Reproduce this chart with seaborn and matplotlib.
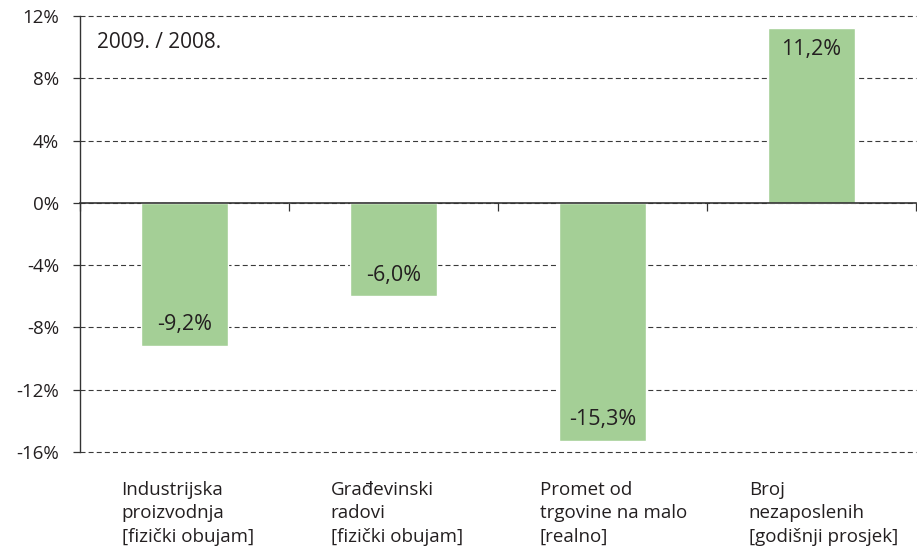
import matplotlib
matplotlib.use('Agg')
import matplotlib.pyplot as plt
import matplotlib.transforms as mtransforms
import pandas as pd
import seaborn as sns

categories = [
    'Industrijska\nproizvodnja\n[fizički obujam]',
    'Građevinski\nradovi\n[fizički obujam]',
    'Promet od\ntrgovine na malo\n[realno]',
    'Broj\nnezaposlenih\n[godišnji prosjek]',
]
values = [-9.2, -6.0, -15.3, 11.2]
value_labels = ['-9,2%', '-6,0%', '-15,3%', '11,2%']
y_ticks = [-16, -12, -8, -4, 0, 4, 8, 12]
period_label = '2009. / 2008.'

sns.set_theme(style='white')
plt.rcParams['font.family'] = ['Open Sans', 'DejaVu Sans']

bar_color = '#a4cf96'
text_color = '#231f20'

df = pd.DataFrame({'cat': categories, 'val': values})

fig = plt.figure(figsize=(9.17, 5.51), dpi=100)
ax = fig.add_axes([0.087, 0.18, 0.912, 0.791])

# dashed gridlines behind the bars
for t in y_ticks:
    ax.axhline(t, color='#3a3a3a', lw=0.8, ls=(0, (4.5, 2.8)), zorder=0, clip_on=False)

sns.barplot(data=df, x='cat', y='val', color=bar_color, width=0.415,
            saturation=1, ax=ax, zorder=2)

ax.set_ylim(-16, 12)
ax.set_xlim(-0.5, 3.5)
ax.set_yticks(y_ticks)
ax.set_yticklabels([f'{t}%' for t in y_ticks], fontsize=13.5, color=text_color)
ax.set_xticks([-0.5, 0.5, 1.5, 2.5, 3.5])
ax.set_xticklabels([])
ax.set_xlabel('')
ax.set_ylabel('')

for s in ['top', 'right']:
    ax.spines[s].set_visible(False)
ax.spines['bottom'].set_position(('data', 0))
ax.spines['bottom'].set_color('#333333')
ax.spines['bottom'].set_linewidth(1.2)
ax.spines['left'].set_color('#333333')
ax.spines['left'].set_linewidth(1.0)
ax.spines['left'].set_zorder(3)
ax.spines['bottom'].set_zorder(3)
ax.tick_params(axis='y', direction='out', length=5, width=0.9, color='#333333', pad=10, left=True)
ax.tick_params(axis='x', direction='out', length=6, width=0.9, color='#333333', bottom=True)

# value labels inside the bar ends
for i, (v, lab) in enumerate(zip(values, value_labels)):
    off = -1.35 if v > 0 else 1.35
    ax.text(i, v + off, lab, ha='center', va='center', fontsize=15.5, color=text_color, zorder=4)

# category labels under the plot, left aligned
trans = mtransforms.blended_transform_factory(ax.transData, ax.transAxes)
for i, c in enumerate(categories):
    ax.text(i - 0.3, -0.066, c, ha='left', va='top', fontsize=13.5, color=text_color,
            linespacing=1.4, transform=trans)

ax.text(0.021, 0.94, period_label, ha='left', va='center', fontsize=15,
        color=text_color, transform=ax.transAxes)

fig.savefig('out.png', dpi=100)
